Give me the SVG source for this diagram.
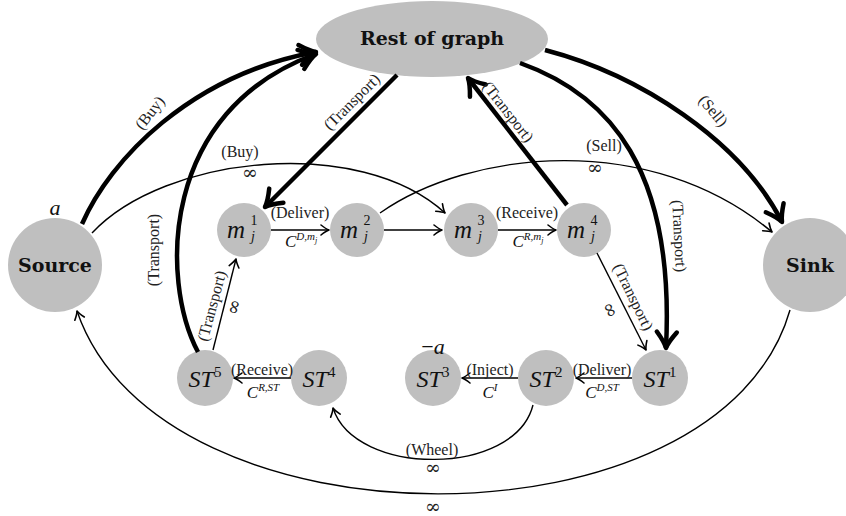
<svg xmlns="http://www.w3.org/2000/svg" width="846" height="516" viewBox="0 0 846 516">
<style>
.n{fill:#bfbfbf}
.e{fill:none;stroke:#000;stroke-width:1.4}
.t{fill:none;stroke:#000;stroke-width:4.5}
.lb{font-family:"Liberation Serif","DejaVu Serif",serif;font-size:16px;fill:#222;text-anchor:middle}
.inf{font-family:"DejaVu Serif",serif;font-size:19px;fill:#222;text-anchor:middle}
.mi{font-family:"Liberation Serif","DejaVu Serif",serif;font-style:italic;fill:#111;text-anchor:middle}
.up{font-style:normal}
.bold{font-family:"DejaVu Serif",serif;font-weight:bold;font-size:19px;text-anchor:middle;fill:#111}
</style>
<defs>
<marker id="ah" markerUnits="userSpaceOnUse" viewBox="-12 -12 24 24" markerWidth="24" markerHeight="24" refX="0" refY="0" orient="auto" overflow="visible">
<path d="M-8,-5 Q-3,-1 0,0 Q-3,1 -8,5" fill="none" stroke="#000" stroke-width="1.6" stroke-linecap="round" stroke-linejoin="round"/>
</marker>
<marker id="ahb" markerUnits="userSpaceOnUse" viewBox="-25 -25 50 50" markerWidth="50" markerHeight="50" refX="0" refY="0" orient="auto" overflow="visible">
<path d="M-16,-10 Q-6,-2 0,0 Q-6,2 -16,10" fill="none" stroke="#000" stroke-width="4.5" stroke-linecap="round" stroke-linejoin="round"/>
</marker>
</defs>

<g id="rest"><ellipse class="n" cx="432" cy="39" rx="116" ry="38"/><text class="bold" x="432" y="45">Rest of graph</text></g>
<g id="source"><circle class="n" cx="55" cy="265" r="47"/><text class="bold" x="55" y="272">Source</text><text class="mi" x="55" y="215" font-size="22">a</text></g>
<g id="sink"><circle class="n" cx="810" cy="265" r="47"/><text class="bold" x="810" y="272">Sink</text></g>

<g id="m1"><circle class="n" cx="244" cy="230" r="27"/><text class="mi" x="236" y="238" font-size="25">m</text><text class="mi up" x="254" y="225" font-size="14">1</text><text class="mi" x="253" y="241" font-size="14">j</text></g>
<g id="m2"><circle class="n" cx="357" cy="230" r="27"/><text class="mi" x="349" y="238" font-size="25">m</text><text class="mi up" x="367" y="225" font-size="14">2</text><text class="mi" x="366" y="241" font-size="14">j</text></g>
<g id="m3"><circle class="n" cx="471" cy="230" r="27"/><text class="mi" x="463" y="238" font-size="25">m</text><text class="mi up" x="481" y="225" font-size="14">3</text><text class="mi" x="480" y="241" font-size="14">j</text></g>
<g id="m4"><circle class="n" cx="584" cy="230" r="27"/><text class="mi" x="576" y="238" font-size="25">m</text><text class="mi up" x="594" y="225" font-size="14">4</text><text class="mi" x="593" y="241" font-size="14">j</text></g>

<g id="st5"><circle class="n" cx="205" cy="378" r="28"/><text class="mi" x="205" y="387" font-size="24">ST<tspan class="up" dy="-10" font-size="15">5</tspan></text></g>
<g id="st4"><circle class="n" cx="319" cy="378" r="28"/><text class="mi" x="319" y="387" font-size="24">ST<tspan class="up" dy="-10" font-size="15">4</tspan></text></g>
<g id="st3"><circle class="n" cx="433" cy="378" r="28"/><text class="mi" x="433" y="387" font-size="24">ST<tspan class="up" dy="-10" font-size="15">3</tspan></text><text class="mi" x="433" y="354" font-size="22"><tspan class="up">−</tspan>a</text></g>
<g id="st2"><circle class="n" cx="546" cy="378" r="28"/><text class="mi" x="546" y="387" font-size="24">ST<tspan class="up" dy="-10" font-size="15">2</tspan></text></g>
<g id="st1"><circle class="n" cx="660" cy="378" r="28"/><text class="mi" x="660" y="387" font-size="24">ST<tspan class="up" dy="-10" font-size="15">1</tspan></text></g>

<g id="edges">
<path class="t" d="M82,224 C110,160 190,75 316,52" marker-end="url(#ahb)"/>
<path class="t" d="M198,352 C160,280 160,110 316,54" marker-end="url(#ahb)"/>
<path class="t" d="M397,75 L265,207" marker-end="url(#ahb)"/>
<path class="t" d="M567,205 L468,78" marker-end="url(#ahb)"/>
<path class="t" d="M545,50 C640,75 740,140 782,222" marker-end="url(#ahb)"/>
<path class="t" d="M520,63 C610,95 675,170 666,348" marker-end="url(#ahb)"/>
<path class="e" d="M92,233 C165,155 360,135 445,213" marker-end="url(#ah)"/>
<path class="e" d="M380,213 C470,150 650,130 772,232" marker-end="url(#ah)"/>
<path class="e" d="M271,230 L329,230" marker-end="url(#ah)"/>
<path class="e" d="M384,230 L442,230" marker-end="url(#ah)"/>
<path class="e" d="M498,230 L556,230" marker-end="url(#ah)"/>
<path class="e" d="M597,253 L646,350" marker-end="url(#ah)"/>
<path class="e" d="M213,350 L236,259" marker-end="url(#ah)"/>
<path class="e" d="M291,378 L234,378" marker-end="url(#ah)"/>
<path class="e" d="M518,378 L462,378" marker-end="url(#ah)"/>
<path class="e" d="M632,378 L576,378" marker-end="url(#ah)"/>
<path class="e" d="M533,405 C515,477 355,477 333,408" marker-end="url(#ah)"/>
<path class="e" d="M790,310 C720,555 160,555 77,311" marker-end="url(#ah)"/>

<text class="lb" transform="translate(150,113) rotate(-52)" y="5">(Buy)</text>
<text class="lb" transform="translate(154,250) rotate(-90)" y="5">(Transport)</text>
<text class="lb" transform="translate(352,102) rotate(-45)" y="5">(Transport)</text>
<text class="lb" transform="translate(508,112) rotate(52)" y="5">(Transport)</text>
<text class="lb" transform="translate(713,111) rotate(50)" y="5">(Sell)</text>
<text class="lb" transform="translate(679,236) rotate(87)" y="5">(Transport)</text>
<text class="lb" x="240" y="157">(Buy)</text>
<text class="inf" x="250" y="179">∞</text>
<text class="lb" x="604" y="151">(Sell)</text>
<text class="inf" x="595" y="174">∞</text>
<text class="lb" x="300" y="218">(Deliver)</text>
<text class="mi" x="301" y="247" font-size="17">C<tspan dy="-7" font-size="11">D,m</tspan><tspan dy="3" font-size="8">j</tspan></text>
<text class="lb" x="527" y="218">(Receive)</text>
<text class="mi" x="528" y="247" font-size="17">C<tspan dy="-7" font-size="11">R,m</tspan><tspan dy="3" font-size="8">j</tspan></text>
<text class="lb" transform="translate(633,297) rotate(64)" y="5">(Transport)</text>
<text class="inf" transform="translate(610,310) rotate(64)" y="6">∞</text>
<text class="lb" transform="translate(212,306) rotate(-75)" y="5">(Transport)</text>
<text class="inf" transform="translate(234,307) rotate(-75)" y="6">∞</text>
<text class="lb" x="262" y="375">(Receive)</text>
<text class="mi" x="263" y="398" font-size="17">C<tspan dy="-7" font-size="11">R,ST</tspan></text>
<text class="lb" x="490" y="375">(Inject)</text>
<text class="mi" x="490" y="398" font-size="17">C<tspan dy="-7" font-size="11">I</tspan></text>
<text class="lb" x="602" y="375">(Deliver)</text>
<text class="mi" x="602" y="398" font-size="17">C<tspan dy="-7" font-size="11">D,ST</tspan></text>
<text class="lb" x="432" y="455">(Wheel)</text>
<text class="inf" x="433" y="474">∞</text>
<text class="inf" x="433" y="513">∞</text>
</g>
</svg>
